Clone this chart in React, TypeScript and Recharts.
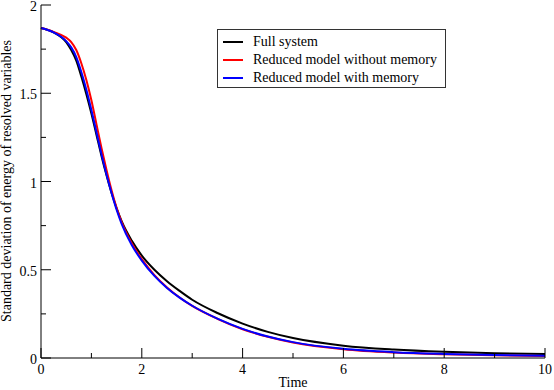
import { LineChart, Line, XAxis, YAxis, Legend } from "recharts";

const times = [
  0, 0.25, 0.5, 0.6, 0.7, 0.8, 0.9, 1.0, 1.1, 1.2, 1.3, 1.4, 1.5, 1.6, 1.8, 2.0,
  2.25, 2.5, 2.75, 3.0, 3.5, 4.0, 4.5, 5.0, 6.0, 7.0, 8.0, 9.0, 10,
];
const fullSystem = [
  1.87, 1.845, 1.79, 1.745, 1.685, 1.595, 1.495, 1.385, 1.265, 1.145, 1.035,
  0.935, 0.85, 0.775, 0.665, 0.58, 0.5, 0.435, 0.38, 0.33, 0.255, 0.195, 0.148,
  0.113, 0.07, 0.048, 0.035, 0.027, 0.022,
];
const withoutMemory = [
  1.87, 1.848, 1.815, 1.79, 1.745, 1.67, 1.575, 1.46, 1.325, 1.19, 1.065, 0.95,
  0.85, 0.77, 0.65, 0.56, 0.47, 0.4, 0.343, 0.295, 0.222, 0.163, 0.12, 0.088,
  0.05, 0.031, 0.021, 0.015, 0.011,
];
const withMemory = [
  1.87, 1.845, 1.795, 1.76, 1.705, 1.62, 1.52, 1.405, 1.28, 1.155, 1.04, 0.935,
  0.84, 0.76, 0.64, 0.552, 0.465, 0.397, 0.342, 0.296, 0.223, 0.165, 0.122,
  0.09, 0.052, 0.033, 0.023, 0.017, 0.013,
];

const xTicks = [0, 1, 2, 3, 4, 5, 6, 7, 8, 9, 10];
const yTicks = [0, 0.25, 0.5, 0.75, 1, 1.25, 1.5, 1.75, 2];

const series = [
  { key: "full", name: "Full system", color: "#000000" },
  { key: "noMem", name: "Reduced model without memory", color: "#ff0000" },
  { key: "mem", name: "Reduced model with memory", color: "#0000ff" },
];

const data = times.map((t, i) => ({
  t,
  full: fullSystem[i],
  noMem: withoutMemory[i],
  mem: withMemory[i],
}));

const font = "Liberation Serif, Times New Roman, serif";

const isMajorX = (v: number) => v % 2 === 0;
const isMajorY = (v: number) => Math.abs(v * 2 - Math.round(v * 2)) < 1e-6;

const BottomTick = (p: any) => {
  const v = p.payload.value;
  const major = isMajorX(v);
  return (
    <g>
      <line x1={p.x} x2={p.x} y1={p.y} y2={p.y - (major ? 10 : 5)} stroke="#000" />
      {major && (
        <text x={p.x} y={p.y + 16} textAnchor="middle" fontSize={14} fontFamily={font} fill="#000">
          {v}
        </text>
      )}
    </g>
  );
};

const TopTick = (p: any) => {
  const major = isMajorX(p.payload.value);
  return <line x1={p.x} x2={p.x} y1={p.y} y2={p.y + (major ? 10 : 5)} stroke="#000" />;
};

const LeftTick = (p: any) => {
  const v = p.payload.value;
  const major = isMajorY(v);
  return (
    <g>
      <line x1={p.x} x2={p.x + (major ? 10 : 5)} y1={p.y} y2={p.y} stroke="#000" />
      {major && (
        <text x={p.x - 4} y={p.y + 6} textAnchor="end" fontSize={14} fontFamily={font} fill="#000">
          {v}
        </text>
      )}
    </g>
  );
};

const RightTick = (p: any) => {
  const major = isMajorY(p.payload.value);
  return <line x1={p.x} x2={p.x - (major ? 10 : 5)} y1={p.y} y2={p.y} stroke="#000" />;
};

const renderLegend = () => (
  <div
    style={{
      width: 229,
      height: 59,
      boxSizing: "border-box",
      border: "1px solid #333",
      background: "#fff",
      paddingTop: 3,
      fontFamily: font,
      fontSize: 14,
    }}
  >
    {series.map((s) => (
      <div key={s.key} style={{ display: "flex", alignItems: "center", height: 18 }}>
        <div style={{ marginLeft: 5, width: 20, height: 2, background: s.color }} />
        <span style={{ marginLeft: 10, lineHeight: "18px" }}>{s.name}</span>
      </div>
    ))}
  </div>
);

export default function App() {
  return (
    <div style={{ position: "absolute", left: 0, top: 0, background: "#fff" }}>
      <LineChart
        width={554}
        height={390}
        data={data}
        margin={{ top: 5, right: 9, left: 0, bottom: 0 }}
      >
        <XAxis
          dataKey="t"
          type="number"
          domain={[0, 10]}
          ticks={xTicks}
          interval={0}
          height={32}
          tickSize={0}
          tickMargin={0}
          tickLine={false}
          axisLine={{ stroke: "#000" }}
          tick={BottomTick}
          label={{
            content: () => (
              <text x={293} y={387} textAnchor="middle" fontSize={14} fontFamily={font} fill="#000">
                Time
              </text>
            ),
          }}
        />
        <XAxis
          xAxisId="top"
          orientation="top"
          type="number"
          dataKey="t"
          domain={[0, 10]}
          ticks={xTicks}
          interval={0}
          height={0}
          tickSize={0}
          tickMargin={0}
          tickLine={false}
          axisLine={{ stroke: "#000" }}
          tick={TopTick}
        />
        <YAxis
          type="number"
          domain={[0, 2]}
          ticks={yTicks}
          interval={0}
          width={41}
          tickSize={0}
          tickMargin={0}
          tickLine={false}
          axisLine={{ stroke: "#000" }}
          tick={LeftTick}
          label={{
            content: () => (
              <text
                x={11}
                y={181}
                transform="rotate(-90 11 181)"
                textAnchor="middle"
                fontSize={14}
                fontFamily={font}
                fill="#000"
              >
                Standard deviation of energy of resolved variables
              </text>
            ),
          }}
        />
        <YAxis
          yAxisId="right"
          orientation="right"
          type="number"
          domain={[0, 2]}
          ticks={yTicks}
          interval={0}
          width={0}
          tickSize={0}
          tickMargin={0}
          tickLine={false}
          axisLine={{ stroke: "#000" }}
          tick={RightTick}
        />
        <Legend
          layout="horizontal"
          verticalAlign="middle"
          align="center"
          content={renderLegend}
          wrapperStyle={{ left: 217, top: 29, width: 229 }}
        />
        {series.map((s) => (
          <Line
            key={s.key}
            type="monotone"
            dataKey={s.key}
            name={s.name}
            stroke={s.color}
            strokeWidth={2}
            dot={false}
            isAnimationActive={false}
          />
        ))}
      </LineChart>
    </div>
  );
}
